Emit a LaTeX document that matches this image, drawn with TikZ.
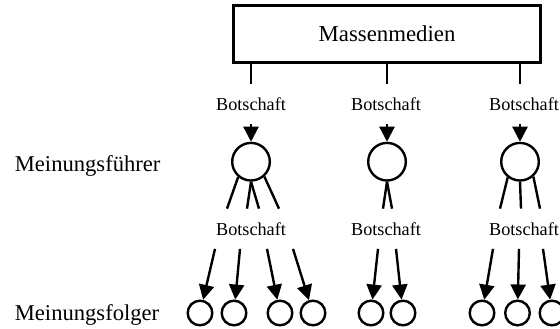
\documentclass[tikz,border=0pt]{standalone}
\usepackage{fontspec}
\setmainfont{Liberation Serif}
\usetikzlibrary{arrows.meta}
\usetikzlibrary{calc}

\begin{document}
\begin{tikzpicture}
	[x=0.5pt,y=-0.5pt,line width=1.2pt,
	 msg/.style={inner xsep=2pt,inner ysep=6.2pt,font=\fontsize{9.1}{11}\selectfont},
	 leader/.style={draw,circle,inner sep=0pt,minimum size=18.8pt},
	 follower/.style={draw,circle,inner sep=0pt,minimum size=12.3pt},
	 side/.style={anchor=base west,font=\fontsize{11.3}{13}\selectfont},
	 flow/.style={-{Triangle[length=7.5pt,width=7.5pt]}}];

	\useasboundingbox (0,0) rectangle (560,328);

	%Massenmedien
	\node[draw,line width=1.3pt,minimum width=153.7pt,minimum height=28.7pt,font=\fontsize{11.4}{13}\selectfont] (medien) at (387,34) {Massenmedien};

	%Meinungsfuehrer
	\node[leader] (m1) at (251,161.7) {};
	\node[leader] (m2) at (387,161.7) {};
	\node[leader] (m3) at (520,161.7) {};

	\node[msg] (b1) at (251,103.75) {Botschaft};
	\node[msg] (b2) at (386,103.75) {Botschaft};
	\node[msg] (b3) at (524,103.75) {Botschaft};

	\draw (medien.south -| m1) -- (b1.north -| m1);
	\draw (medien.south -| m2) -- (b2.north -| m2);
	\draw (medien.south -| m3) -- (b3.north -| m3);
	\draw[flow] (b1.south -| m1) -- (m1);
	\draw[flow] (b2.south -| m2) -- (m2);
	\draw[flow] (b3.south -| m3) -- (m3);

	%Meinungsfolger
	\node[msg] (b4) at (251,228.75) {Botschaft};
	\node[msg] (b5) at (386,228.75) {Botschaft};
	\node[msg] (b6) at (524,228.75) {Botschaft};

	\draw (m1.230) -- ($(b4.north)+(-24,0)$);
	\draw (m1.south) -- ($(b4.north)+(-4,0)$);
	\draw (m1.south) -- ($(b4.north)+(8,0)$);
	\draw (m1.-48) -- ($(b4.north)+(28,0)$);
	\draw (m2.south) -- ($(b5.north)+(-3,0)$);
	\draw (m2.south) -- ($(b5.north)+(6,0)$);
	\draw (m3.232) -- ($(b6.north)+(-24,0)$);
	\draw (m3.south) -- ($(b6.north)+(-3,0)$);
	\draw (m3.-48) -- ($(b6.north)+(16,0)$);

	\node[follower] (f1) at (200,313) {};
	\node[follower] (f2) at (234,313) {};
	\node[follower] (f3) at (280,313) {};
	\node[follower] (f4) at (313,313) {};
	\node[follower] (f5) at (371,313) {};
	\node[follower] (f6) at (403,313) {};
	\node[follower] (f7) at (482,313) {};
	\node[follower] (f8) at (517.5,313) {};
	\node[follower] (f9) at (552,313) {};

	\draw[flow] ($(b4.south)+(-36,0)$) -- (f1);
	\draw[flow] ($(b4.south)+(-11,0)$) -- (f2);
	\draw[flow] ($(b4.south)+(16,0)$) -- (f3);
	\draw[flow] ($(b4.south)+(42,0)$) -- (f4);
	\draw[flow] ($(b5.south)+(-8,0)$) -- (f5);
	\draw[flow] ($(b5.south)+(10,0)$) -- (f6);
	\draw[flow] ($(b6.south)+(-31,0)$) -- (f7);
	\draw[flow] ($(b6.south)+(-5,0)$) -- (f8);
	\draw[flow] ($(b6.south)+(19,0)$) -- (f9);

	%Ebenen
	\node[side] (fuehrer) at (7,171) {Meinungsführer};
	\node[side] (folger) at (7,320) {Meinungsfolger};
\end{tikzpicture}
\end{document}
